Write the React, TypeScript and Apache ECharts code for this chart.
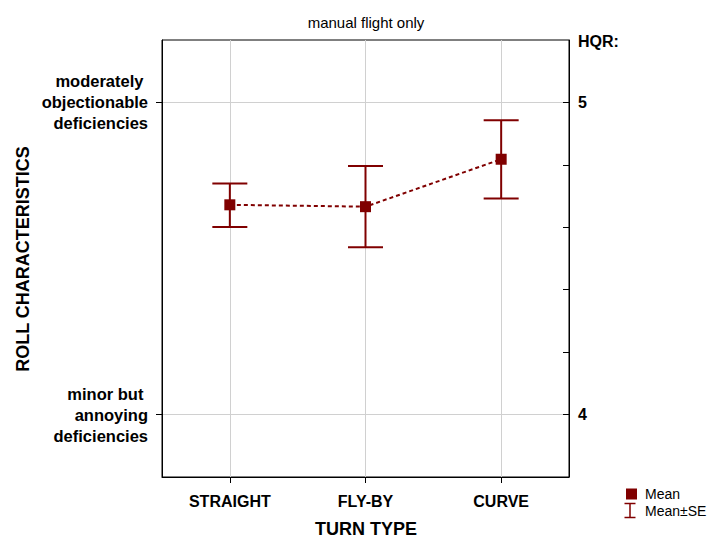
import React, { useEffect, useRef } from 'react';
import * as echarts from 'echarts';

const categories = ['STRAIGHT', 'FLY-BY', 'CURVE'];
const means = [4.672, 4.666, 4.818];
const seLow = [4.601, 4.536, 4.692];
const seHigh = [4.74, 4.796, 4.943];
const leftTickValues = [4, 5];
const leftTickLabels = ['minor but \nannoying\ndeficiencies', 'moderately \nobjectionable\ndeficiencies'];
const rightTickValues = [4, 4.2, 4.4, 4.6, 4.8, 5];
const rightLabelValues = [4, 5];
const categoryPositions = [0, 1, 2];

const RED = '#800000';
const FONT = 'Arial, "Liberation Sans", sans-serif';

export default function App() {
  const ref = useRef<HTMLDivElement>(null);
  useEffect(() => {
    document.body.style.margin = '0';
    const chart = echarts.init(ref.current!, null, { renderer: 'svg' });
    const option: any = {
      animation: false,
      backgroundColor: '#fff',
      textStyle: { fontFamily: FONT },
      grid: { left: 162, right: 142, top: 40, bottom: 63, show: true, borderColor: '#000', borderWidth: 1 },
      xAxis: {
        type: 'value',
        min: -0.5,
        max: 2.5,
        axisLine: { show: true, onZero: false, lineStyle: { color: '#000', width: 1 } },
        axisTick: { show: true, customValues: categoryPositions, length: 6, lineStyle: { color: '#000' } },
        axisLabel: {
          customValues: categoryPositions,
          formatter: (v: number) => categories[Math.round(v)],
          fontSize: 16,
          fontWeight: 'bold',
          color: '#000',
          margin: 16,
          fontFamily: FONT,
        },
        splitLine: { show: true, lineStyle: { color: '#d0d0d0', width: 1 } },
      },
      yAxis: [
        {
          type: 'value',
          min: 3.8,
          max: 5.2,
          position: 'left',
          axisLine: { show: true, onZero: false, lineStyle: { color: '#000', width: 1 } },
          axisTick: { show: true, customValues: leftTickValues, length: 6, lineStyle: { color: '#000' } },
          axisLabel: {
            customValues: leftTickValues,
            formatter: (v: number) => leftTickLabels[leftTickValues.indexOf(Math.round(v))],
            fontSize: 16.5,
            fontWeight: 'bold',
            lineHeight: 21,
            color: '#000',
            margin: 14,
            align: 'right',
            fontFamily: FONT,
          },
          splitLine: { show: true, lineStyle: { color: '#d0d0d0', width: 1 } },
        },
        {
          type: 'value',
          min: 3.8,
          max: 5.2,
          position: 'right',
          axisLine: { show: true, onZero: false, lineStyle: { color: '#000', width: 1 } },
          axisTick: { show: true, inside: true, customValues: rightTickValues, length: 6, lineStyle: { color: '#000' } },
          axisLabel: {
            customValues: rightLabelValues,
            formatter: (v: number) => String(Math.round(v)),
            fontSize: 16,
            fontWeight: 'bold',
            color: '#000',
            margin: 9,
            align: 'left',
            fontFamily: FONT,
          },
          splitLine: { show: false },
        },
      ],
      series: [
        {
          type: 'custom',
          yAxisIndex: 0,
          data: categories.map((_, i) => [categoryPositions[i], seLow[i], seHigh[i]]),
          encode: { x: 0, y: [1, 2] },
          z: 2,
          renderItem: (params: any, api: any) => {
            const x = api.value(0);
            const lo = api.coord([x, api.value(1)]);
            const hi = api.coord([x, api.value(2)]);
            const hw = 17.5;
            const st = { stroke: RED, lineWidth: 2 };
            return {
              type: 'group',
              children: [
                { type: 'line', shape: { x1: lo[0], y1: hi[1], x2: lo[0], y2: lo[1] }, style: st },
                { type: 'line', shape: { x1: lo[0] - hw, y1: hi[1], x2: lo[0] + hw, y2: hi[1] }, style: st },
                { type: 'line', shape: { x1: lo[0] - hw, y1: lo[1], x2: lo[0] + hw, y2: lo[1] }, style: st },
              ],
            };
          },
        },
        {
          type: 'line',
          yAxisIndex: 0,
          data: means.map((m, i) => [categoryPositions[i], m]),
          symbol: 'rect',
          symbolSize: 11,
          showSymbol: true,
          z: 3,
          lineStyle: { color: RED, width: 2, type: [4, 3] },
          itemStyle: { color: RED },
        },
      ],
      graphic: [
        {
          type: 'text',
          x: 366,
          y: 22,
          style: { text: 'manual flight only', font: `15px ${FONT}`, fill: '#000', textAlign: 'center', textVerticalAlign: 'middle' },
        },
        {
          type: 'text',
          x: 578,
          y: 41,
          style: { text: 'HQR:', font: `bold 16px ${FONT}`, fill: '#000', textAlign: 'left', textVerticalAlign: 'middle' },
        },
        {
          type: 'text',
          x: 23,
          y: 259,
          rotation: Math.PI / 2,
          style: { text: 'ROLL CHARACTERISTICS', font: `bold 18px ${FONT}`, fill: '#000', textAlign: 'center', textVerticalAlign: 'middle' },
        },
        {
          type: 'text',
          x: 366,
          y: 529,
          style: { text: 'TURN TYPE', font: `bold 18px ${FONT}`, fill: '#000', textAlign: 'center', textVerticalAlign: 'middle' },
        },
        { type: 'rect', shape: { x: 626, y: 488.5, width: 11, height: 11 }, style: { fill: RED } },
        {
          type: 'text',
          x: 645,
          y: 494,
          style: { text: 'Mean', font: `14px ${FONT}`, fill: '#000', textAlign: 'left', textVerticalAlign: 'middle' },
        },
        { type: 'line', shape: { x1: 630, y1: 503.5, x2: 630, y2: 517.5 }, style: { stroke: RED, lineWidth: 1.5 } },
        { type: 'line', shape: { x1: 624.5, y1: 503.5, x2: 635.5, y2: 503.5 }, style: { stroke: RED, lineWidth: 1.5 } },
        { type: 'line', shape: { x1: 624.5, y1: 517.5, x2: 635.5, y2: 517.5 }, style: { stroke: RED, lineWidth: 1.5 } },
        {
          type: 'text',
          x: 645,
          y: 511,
          style: { text: 'Mean±SE', font: `14px ${FONT}`, fill: '#000', textAlign: 'left', textVerticalAlign: 'middle' },
        },
      ],
    };
    chart.setOption(option);
    return () => chart.dispose();
  }, []);
  return <div ref={ref} style={{ width: 711, height: 540 }} />;
}
